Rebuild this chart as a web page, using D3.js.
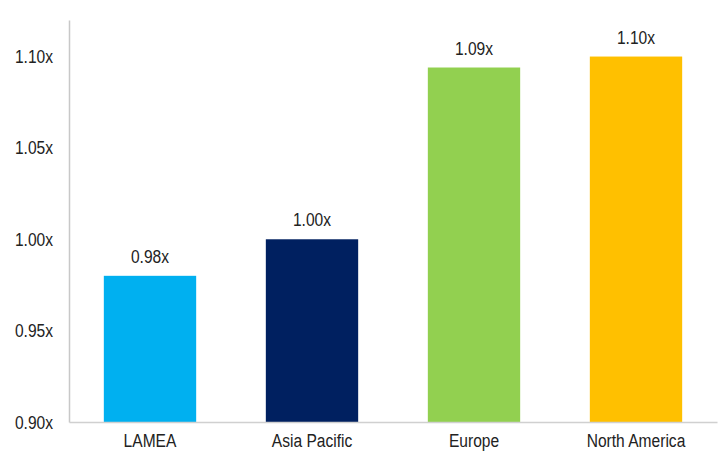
<!DOCTYPE html>
<html>
<head>
<meta charset="utf-8">
<script src="https://cdn.jsdelivr.net/npm/d3@7"></script>
<style>
  html, body { margin: 0; padding: 0; background: #fff; }
  svg text { font-family: "Liberation Sans Narrow", "Liberation Sans", Arial, sans-serif; fill: #222; }
</style>
</head>
<body>
<svg id="chart" width="724" height="452"></svg>
<script>
// Regional multiples
const regions = ["LAMEA", "Asia Pacific", "Europe", "North America"];
const multiples = [0.98, 1.00, 1.094, 1.10];
const barColors = ["#00B0F0", "#002060", "#92D050", "#FFC000"];
const yTicks = [0.90, 0.95, 1.00, 1.05, 1.10];

const fmt = v => d3.format(".2f")(v) + "x";
// Narrow look: squeeze glyphs horizontally
const squeeze = "scale(0.82,1)";

const svg = d3.select("#chart");
const margin = { left: 69, right: 7, top: 20, bottom: 30 };
const width = 724, height = 452;

const x = d3.scaleBand()
  .domain(regions)
  .range([margin.left, width - margin.right])
  .paddingInner(0.43)
  .paddingOuter(0.215);

const y = d3.scaleLinear()
  .domain([0.90, 1.12])
  .range([height - margin.bottom, margin.top]);

// Bars
svg.append("g")
  .selectAll("rect")
  .data(regions)
  .join("rect")
  .attr("x", d => x(d))
  .attr("width", x.bandwidth())
  .attr("y", (d, i) => y(multiples[i]))
  .attr("height", (d, i) => y(0.90) - y(multiples[i]))
  .attr("fill", (d, i) => barColors[i]);

// Value labels
svg.append("g")
  .selectAll("text")
  .data(regions)
  .join("text")
  .attr("transform", (d, i) => `translate(${x(d) + x.bandwidth() / 2},${y(multiples[i]) - 13}) ${squeeze}`)
  .attr("text-anchor", "middle")
  .style("font-size", "19px")
  .text((d, i) => fmt(multiples[i]));

// Y axis
const yAxis = svg.append("g")
  .attr("transform", `translate(${margin.left},0)`)
  .call(d3.axisLeft(y).tickValues(yTicks).tickFormat(fmt).tickSize(0).tickPadding(19.5));
yAxis.select(".domain").attr("stroke", "#c8c8c8").attr("stroke-width", 1.5);
yAxis.selectAll("text").style("font-size", "19px").attr("fill", "#222").attr("transform", squeeze);

// X axis
const xAxis = svg.append("g")
  .attr("transform", `translate(0,${y(0.90)})`)
  .call(d3.axisBottom(x).tickSize(0).tickPadding(12));
xAxis.select(".domain").attr("stroke", "#d0d0d0").attr("stroke-width", 1.5);
xAxis.selectAll("text").style("font-size", "19px").attr("fill", "#222").attr("transform", squeeze);
</script>
</body>
</html>
